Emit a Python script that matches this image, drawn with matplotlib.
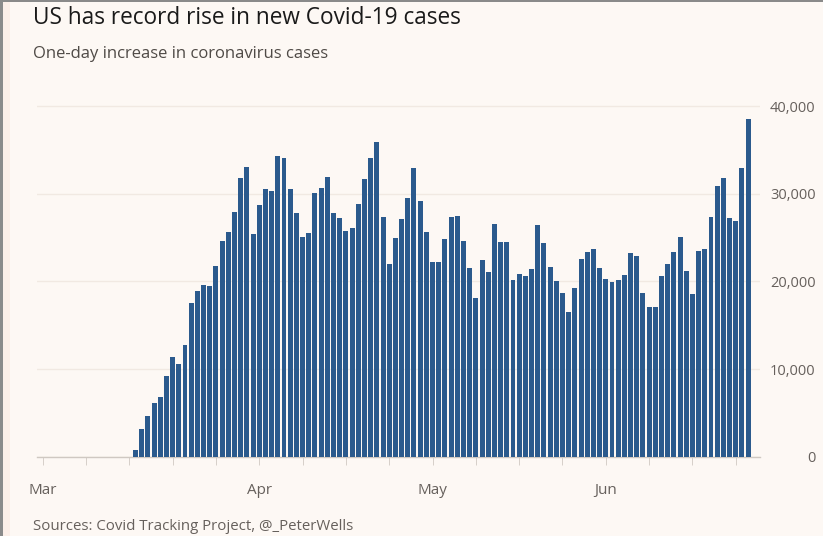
import matplotlib
matplotlib.use("Agg")
import matplotlib.pyplot as plt
import matplotlib.dates as mdates
from matplotlib.patches import Rectangle
import numpy as np

# ---- data ----
start_date = "2020-03-17"
daily_cases = [
    760, 3120, 4640, 6180, 6840, 9200, 11380, 10550, 12740, 17570,
    18920, 19590, 19490, 21790, 24600, 25600, 27880, 31750, 33080, 25400,
    28710, 30500, 30340, 34300, 34110, 30540, 27760, 25100, 25480, 30110,
    30680, 31870, 27830, 27260, 25710, 26120, 28790, 31640, 34030, 35860,
    27300, 21940, 24980, 27080, 29470, 32890, 29200, 25670, 22240, 22240,
    24830, 27380, 27460, 24600, 21490, 18070, 22440, 21100, 26510, 24530,
    24530, 20160, 20840, 20650, 21370, 26430, 24410, 21600, 20080, 18640,
    16540, 19280, 22510, 23380, 23730, 21560, 20230, 19890, 20160, 20730,
    23200, 22930, 18710, 17040, 17040, 20650, 21940, 23310, 25020, 21180,
    18520, 23460, 23690, 27380, 30880, 31830, 27190, 26920, 32890, 38520,
]
y_ticks = [0, 10000, 20000, 30000, 40000]
y_tick_labels = ["0", "10,000", "20,000", "30,000", "40,000"]
month_tick_dates = ["2020-03-02", "2020-04-06", "2020-05-04", "2020-06-01"]
month_labels = ["Mar", "Apr", "May", "Jun"]
week_tick_start = "2020-03-02"
n_week_ticks = 17
x_min, x_max = "2020-03-01 02:00", "2020-06-25 22:00"

title = "US has record rise in new Covid-19 cases"
subtitle = "One-day increase in coronavirus cases"
source = "Sources: Covid Tracking Project, @_PeterWells"

BG = "#fdf8f4"
BAR = "#2b5a8d"
TXT = "#66605c"

plt.rcParams['font.family'] = ['Open Sans', 'DejaVu Sans']

W, H = 823, 536
fig = plt.figure(figsize=(W / 100, H / 100), dpi=100, facecolor=BG)

# screenshot-like border
fig.add_artist(Rectangle((0, 0), 2.5 / W, 1, transform=fig.transFigure, color="#8a8a8a", lw=0))
fig.add_artist(Rectangle((0, 1 - 2 / H), 1, 2 / H, transform=fig.transFigure, color="#8a8a8a", lw=0))
fig.add_artist(Rectangle((2.5 / W, 0), 8 / W, 1 - 2 / H, transform=fig.transFigure, color="#fbeee8", lw=0))

left, right = 37, 760
y0_px, top_px = 456.7, 102.5
ax = fig.add_axes([left / W, 1 - y0_px / H, (right - left) / W, (y0_px - top_px) / H])
ax.set_facecolor(BG)

dates = mdates.date2num(np.datetime64(start_date) + np.arange(len(daily_cases)))
ax.bar(dates, daily_cases, width=0.8, color=BAR, zorder=3)

ax.set_xlim(mdates.datestr2num(x_min), mdates.datestr2num(x_max))
ax.set_ylim(0, 40400)

for s in ["top", "right", "left"]:
    ax.spines[s].set_visible(False)
ax.spines["bottom"].set_color("#cfc8c2")
ax.spines["bottom"].set_linewidth(1.0)

ax.yaxis.tick_right()
ax.set_yticks(y_ticks)
ax.set_yticklabels(y_tick_labels)
ax.tick_params(axis="y", length=0, pad=40, labelsize=10.5, labelcolor=TXT)
for lab in ax.get_yticklabels():
    lab.set_horizontalalignment("right")
ax.grid(axis="y", color="#f1e9e2", lw=1.0, zorder=0)

week_ticks = mdates.date2num(np.datetime64(week_tick_start) + 7 * np.arange(n_week_ticks))
ax.set_xticks(week_ticks, minor=True)
ax.set_xticks(mdates.date2num(np.array(month_tick_dates, dtype="datetime64[D]")))
ax.set_xticklabels(month_labels)
ax.tick_params(axis="x", which="both", length=6, width=0.7, color="#d6cfc9",
               direction="out")
ax.tick_params(axis="x", which="major", pad=13, labelsize=11, labelcolor=TXT)

fig.text(33 / W, 1 - 18 / H, title, fontsize=16.3, color="#1a1a1a", va="center", ha="left")
fig.text(33 / W, 1 - 54 / H, subtitle, fontsize=12, color="#4f4a46", va="center", ha="left")
fig.text(33 / W, 1 - 526 / H, source, fontsize=10.8, color=TXT, va="center", ha="left")

fig.savefig("out.png", dpi=100, facecolor=BG)
